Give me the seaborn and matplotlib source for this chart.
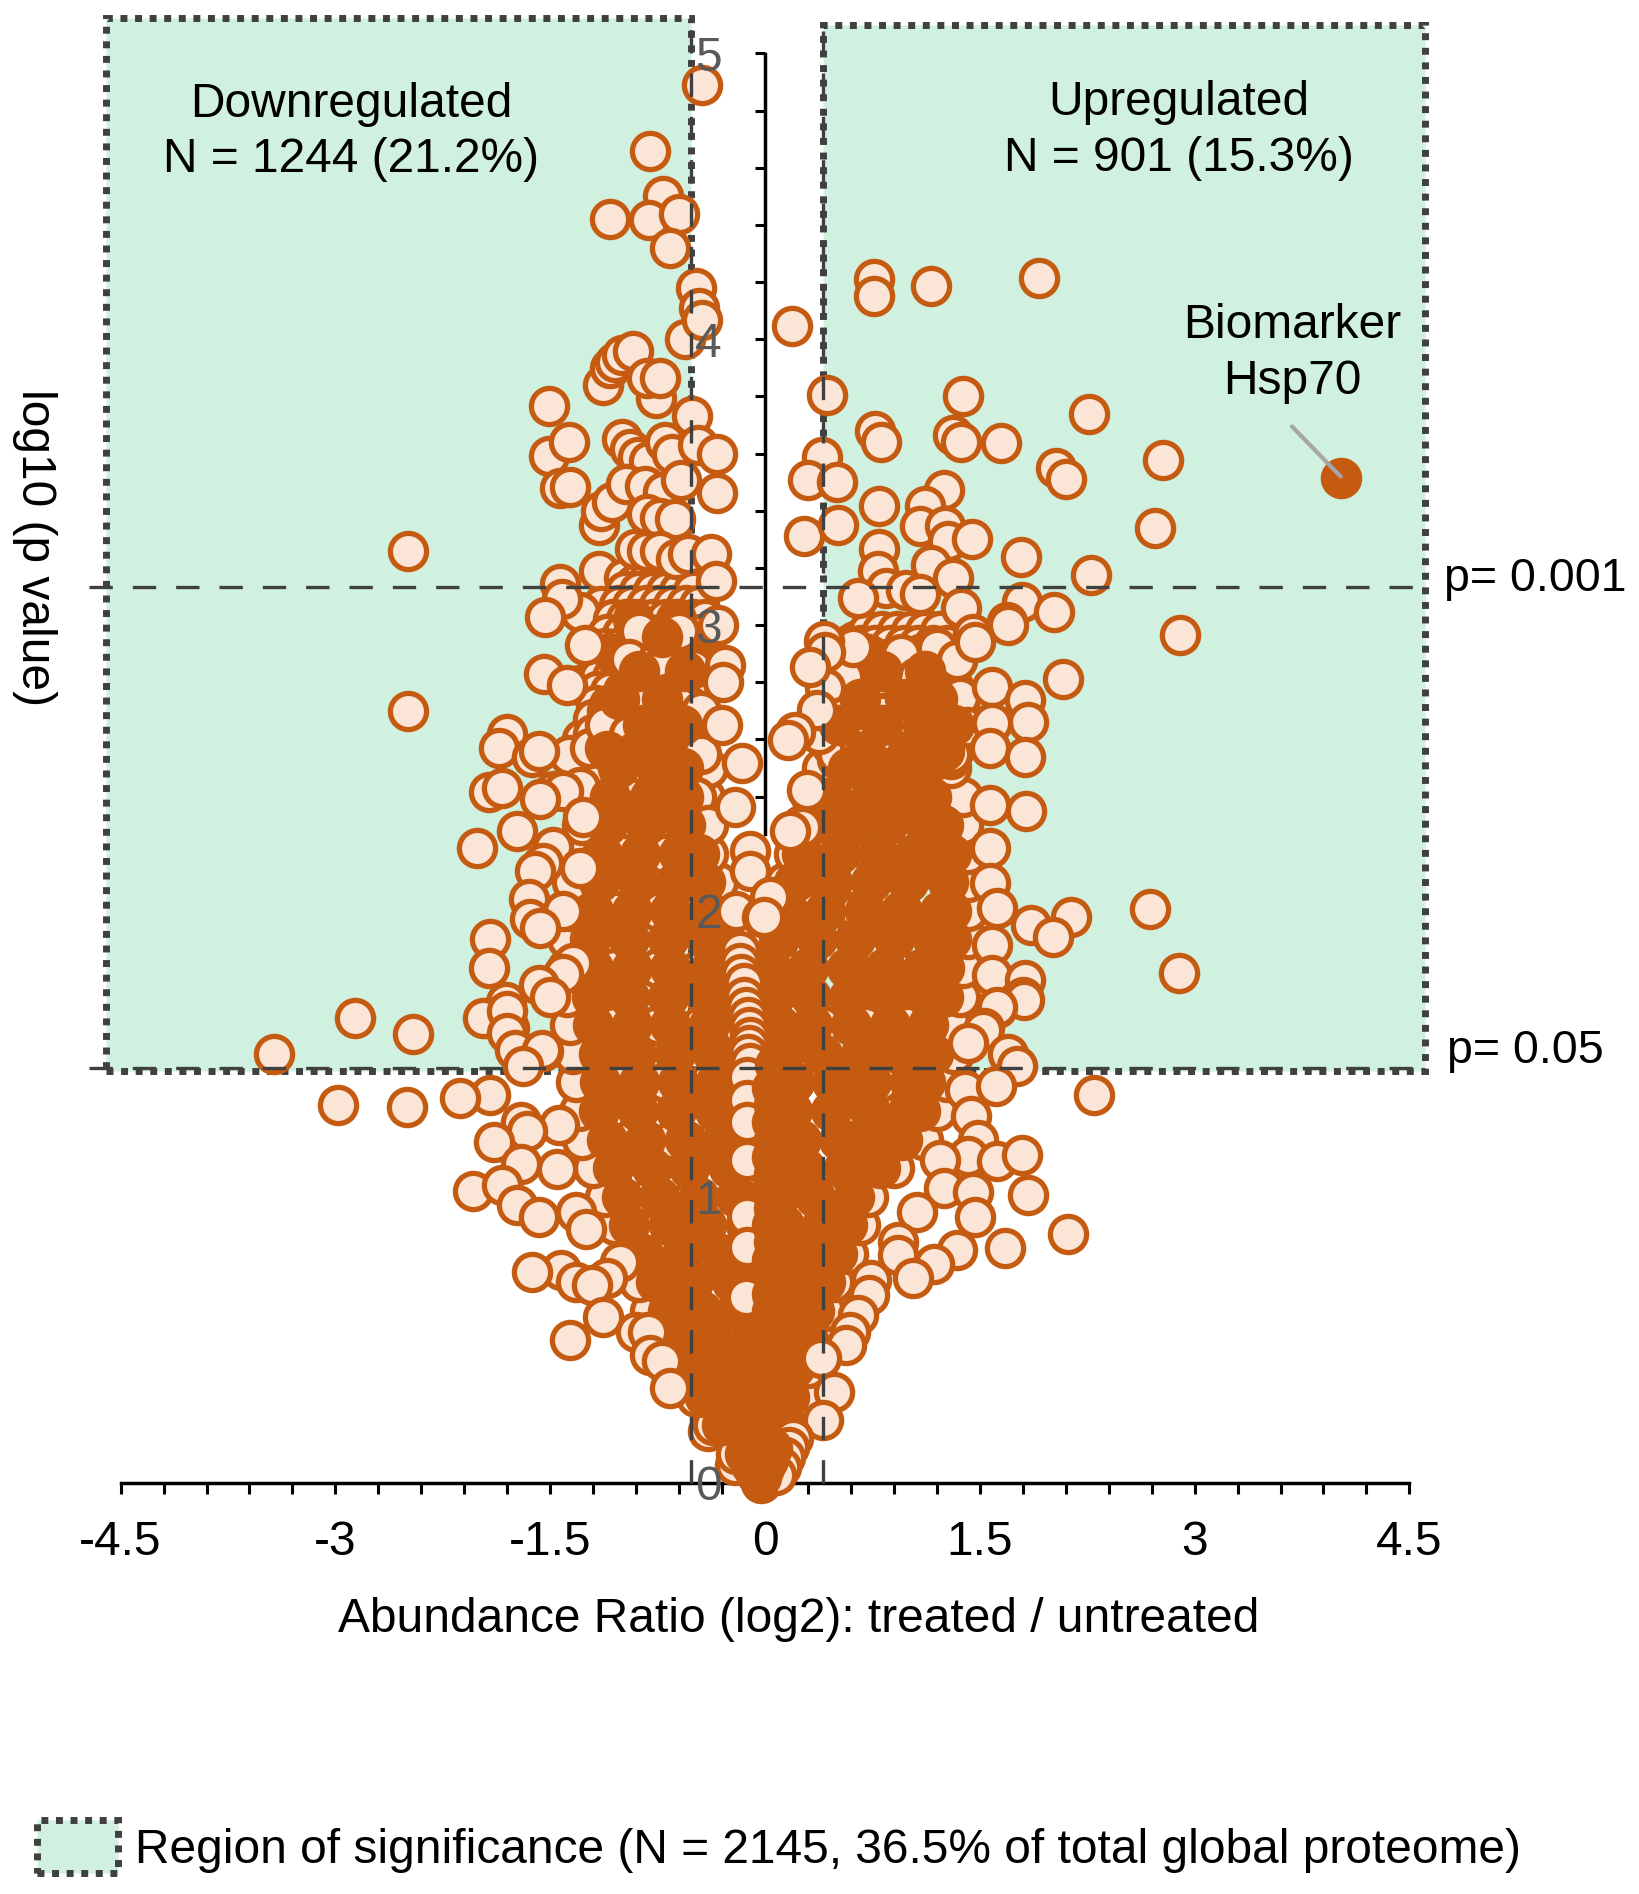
import numpy as np
import pandas as pd
import matplotlib
matplotlib.use("Agg")
import matplotlib.pyplot as plt
from matplotlib.patches import Rectangle, Patch
import seaborn as sns

# ---------- values (log2 ratio, -log10 p) ----------
left_top = [(-.44,4.89),(-.80,4.66),(-.71,4.50),(-.81,4.416),(-1.08,4.42),(-.60,4.44),(-.665,4.32),
 (-.48,4.18),(-.46,4.11),(-.56,4.0),(-.44,4.066),(-1.13,3.84),(-1.08,3.90),(-1.05,3.92),(-1.0,3.945),(-.92,3.96),
 (-.76,3.795),(-.825,3.866),(-.735,3.866),(-.51,3.73),(-1.51,3.765),(-1.51,3.59),(-1.37,3.64),
 (-1.43,3.48),(-1.36,3.483),(-1.16,3.35),(-1.145,3.40),(-1.07,3.43),
 (-1.0,3.65),(-.94,3.616),(-.89,3.587),(-.81,3.573),(-.70,3.64),(-.65,3.60),(-.97,3.495),(-.84,3.488),(-.71,3.466),
 (-.585,3.509),(-.47,3.63),(-.335,3.60),(-.335,3.463),(-.825,3.388),(-.73,3.373),(-.626,3.37),
 (-.905,3.266),(-.825,3.26),(-.73,3.26),(-.62,3.23),(-.535,3.248),(-.376,3.25),(-2.49,3.26)]
left_inner = [(-1.16,3.188),(-.985,3.166),(-.905,3.145),(-.81,3.16),(-.71,3.16),(-.616,3.159),
 (-1.145,3.066),(-.81,3.045),(-.49,3.045),(-1.29,3.045),(-.97,3.03),(-1.09,2.855),(-1.29,2.79),(-1.28,2.6),
 (-1.37,2.546),(-1.29,2.435),(-.48,2.4),(-.4,2.3)]
left_outer = [(-.344,3.156),(-1.43,3.145),(-1.42,3.09),(-1.536,3.03),(-.33,3.0),
 (-1.26,2.93),(-.28,2.86),(-1.54,2.83),(-1.385,2.79),(-.29,2.80),
 (-2.49,2.70),(-.30,2.65),(-1.80,2.62),(-1.855,2.57),(-1.63,2.54),(-1.58,2.558),
 (-.163,2.517),(-1.47,2.42),(-1.41,2.42),(-1.93,2.417),(-1.84,2.43),(-1.57,2.39),(-.21,2.365),
 (-1.27,2.33),(-1.73,2.28),(-2.01,2.22),(-1.48,2.225),(-.105,2.21),(-1.55,2.167),(-1.29,2.15),(-1.606,2.138),(-.105,2.14),
 (-1.65,2.04),(.07,2.05),(-1.41,2.0),(-.2,2.0),(-1.64,1.97),(-1.57,1.94),(-.02,1.98),(-1.92,1.90),(-1.925,1.80),
 (-1.34,1.817),(-1.41,1.78),(-1.58,1.74),(-1.50,1.70),(-1.81,1.68),(-1.94,1.625),(-1.79,1.59),(-2.455,1.57)]
left_low = [(-2.86,1.624),(-1.97,1.624),(-1.80,1.65),(-1.80,1.572),(-1.73,1.51),(-1.55,1.51),(-1.745,1.514),(-1.56,1.514),
 (-3.43,1.50),(-1.69,1.456),(-1.92,1.357),(-2.13,1.346),(-2.98,1.32),(-2.50,1.313),(-1.44,1.25),(-1.705,1.26),(-1.665,1.23),
 (-1.89,1.19),(-1.705,1.114),(-1.45,1.096),(-2.04,1.021),(-1.84,1.04),(-1.73,.971),(-1.32,.946),(-1.577,.928),
 (-1.25,.888),(-1.01,.772),(-1.425,.743),(-1.625,.737),(-1.10,.714),(-1.32,.702),(-1.21,.69),(-1.13,.58),(-.90,.528),(-.82,.528),
 (-1.36,.50),(-.80,.447),(-.716,.424),(-.663,.331)]
centre_col = [(-.175,1.86),(-.175,1.817),(-.165,1.78),(-.15,1.747),(-.15,1.70),(-.13,1.665),(-.116,1.63),(-.11,1.595),
 (-.105,1.56),(-.11,1.53),(-.12,1.50),(-.105,1.467),(-.125,1.42),(-.127,1.34),(-.127,1.26),
 (-.127,1.13),(-.127,.934),(-.127,.824),(-.13,.65)]
centre_front_y = [1.46,1.38,1.32,1.26,1.2,1.14,1.08,1.02,.96,.9,.84,.78,.72,.66,.6,.54,.48,.42,.36]
centre_front_x = [.07,.05,.06,.05,.06,.05,.06,.05,.06,.05,.06,.05,.06,.05,.05,.04,.04,.03,.03]
right_top = [(.188,4.045),(.76,4.21),(.76,4.15),(1.16,4.185),(1.915,4.216),(.435,3.805),(1.38,3.80),(2.26,3.74),
 (.767,3.68),(.807,3.64),(1.316,3.666),(1.367,3.64),(1.648,3.637),(2.03,3.55),(2.10,3.51),(2.776,3.578),
 (.396,3.588),(.298,3.509),(.50,3.50),(.27,3.312),(.513,3.349),(1.249,3.473),(1.12,3.416),(.795,3.416),
 (1.08,3.345),(1.257,3.345),(1.277,3.295),(1.445,3.30),(.795,3.266),(2.725,3.338),(1.785,3.238),(.787,3.188),
 (1.16,3.21),(2.275,3.176),(1.316,3.166),(.846,3.13),(.983,3.124),(1.08,3.11),(.65,3.095),(1.797,3.08),(1.37,3.06),(2.02,3.045)]
right_inner = [(1.10,2.99),(1.106,2.977),(.63,2.945),(.826,2.948),(1.34,2.878)]
right_outer = [(1.69,3.01),(1.70,3.0),(1.45,2.97),(2.90,2.965),(.415,2.945),(1.467,2.94),
 (.419,2.907),(.314,2.855),(2.08,2.81),(1.583,2.785),
 (1.816,2.738),(.36,2.703),(1.834,2.662),(1.583,2.657),
 (.21,2.627),(.163,2.598),(1.571,2.569),(1.816,2.54),(.291,2.423),(1.571,2.371),(1.823,2.351),
 (.256,2.295),(.175,2.28),(1.571,2.219),(1.571,2.097),(.035,2.05),(2.14,1.98),(1.62,2.01),(2.69,2.006),(-.01,1.98),
 (1.86,1.951),(2.009,1.91),(1.583,1.881),(2.89,1.784),(1.583,1.776),(1.816,1.759),(1.80,1.697)]
right_low = [(1.618,1.66),(1.81,1.688),(1.62,1.665),(1.53,1.59),(1.525,1.584),(1.42,1.537),(1.70,1.50),(1.757,1.456),
 (1.396,1.375),(1.61,1.386),(2.30,1.357),(1.436,1.282),(1.49,1.2),(1.42,1.143),(1.22,1.13),(1.623,1.125),(1.797,1.146),
 (1.25,1.03),(1.45,1.015),(1.837,1.006),(1.062,.946),(1.463,.928),(2.117,.868),(.93,.841),(1.677,.821),(1.343,.812),
 (.93,.795),(1.182,.766),(1.035,.714),(.742,.708),(.728,.656),(.648,.586),(.595,.528),(.568,.482),(.394,.435),
 (.482,.316),(.407,.22)]
tip_stack = [(.194,.157),(.165,.125),(.14,.09),(.11,.055),(.08,.025)]
tip_front_x = [.05,.02,-.01,-.03,-.06]
tip_front_y = [.12,.08,.05,.02,.03]

under_rows_y = [.06,.1,.18,.2,.3,.4,.5,.6,.7,.8,.9,1.0,1.1,1.2,1.3,1.4,1.5,1.6,1.7,1.8,1.9,2.0,2.1,2.2,2.3,2.4,2.5]
under_rows_x = [[-.21,-.10],[-.2,.12],[-.396],[-.36,.18],[-.48,.25],[-.6,-.3,0,.3],[-.72,.38],[-.8,-.5,-.2,.1,.42],[-.88,.48],
 [-.95,-.65,-.35,-.05,.25,.58],[-1.05,.66],[-1.12,-.8,-.5,-.2,.1,.4,.72],[-1.2,.9],
 [-1.28,-.95,-.65,-.35,-.05,.25,.55,.85,1.1],[-1.3,1.2],[-1.32,-1,-.7,-.4,-.1,.2,.5,.8,1.1,1.27],[-1.34,1.32],
 [-1.36,-1.05,-.75,-.45,-.18,.1,.4,.7,1.0,1.3],[-1.38,1.36],[-1.38,-1.05,-.75,-.45,-.25,0,.3,.6,.9,1.2,1.38],[-1.38,1.42],
 [-1.36,-1.05,-.75,-.45,-.28,.1,.35,.65,.95,1.25,1.42],[-1.35,-.33,.14,1.42],[-1.32,-1.0,-.7,-.4,.2,.45,.75,1.05,1.42],
 [-1.28,-.42,.25,1.38],[-1.25,-.95,-.65,-.42,.32,.6,.9,1.2,1.38],[-1.2,-.4,.4,1.3]]

dense_rows_y = [3.12,3.07,3.02,2.98,2.97,2.93,2.92,2.88,2.87,2.83,2.82,2.78,2.77,2.73,2.72,2.68,2.67,2.63,2.62,2.58,2.57,2.53]
dense_rows_x = [[-.98,-.88,-.78,-.69,-.6,-.5],[-1.02,-.93,-.83,-.74,-.64,-.55,-.46],[-1.06,-.97,-.87,-.78,-.69,-.6,-.5,-.42],
 [.72,.82,.92,1.02,1.12,1.22],[-1.1,-1.0,-.92,-.82,-.73,-.63,-.54,-.45],[.58,.67,.77,.87,.97,1.07,1.17,1.27],
 [-1.12,-1.03,-.94,-.85,-.76,-.67,-.58,-.48],[.5,.6,.7,.8,.9,1.0,1.1,1.2,1.3],[-1.15,-1.05,-.96,-.87,-.78,-.69,-.6,-.5],
 [.46,.56,.65,.75,.85,.95,1.05,1.15,1.25],[-1.16,-1.07,-.98,-.89,-.8,-.7,-.61,-.52],[.44,.54,.63,.72,.82,.92,1.02,1.12,1.22,1.32],
 [-1.17,-1.08,-.99,-.9,-.8,-.71,-.62,-.53],[.42,.52,.61,.7,.8,.9,1.0,1.1,1.2,1.3],[-1.18,-1.09,-1.0,-.91,-.82,-.73,-.64,-.54],
 [.42,.51,.6,.7,.79,.89,.99,1.09,1.19,1.29,1.38],[-1.2,-1.1,-1.01,-.92,-.83,-.74,-.65,-.56],[.44,.53,.62,.72,.81,.91,1.01,1.11,1.21,1.31],
 [-1.2,-1.11,-1.02,-.93,-.84,-.75,-.66,-.57],[.46,.55,.65,.75,.85,.95,1.05,1.15,1.25,1.35],[-1.22,-1.12,-1.03,-.94,-.85,-.76,-.67,-.58],
 [.5,.6,.7,.8,.9,1.0,1.1,1.2,1.3]]

solid_a_y = [3.02,2.9,2.8,2.7,2.6]
solid_a_x = [[-.92,-.62],[-1.06,-.78,-.5,.72,1.08],[-.95,-.65,.6,.92,1.24],[-1.1,-.8,-.52,.48,.76,1.06,1.34],[-.98,-.68,.62,.92,1.2]]
break_pts = [(-.88,2.98),(-.6,2.98),(-.95,2.88),(-.75,2.88),(-.5,2.85),(-1.0,2.75),(-.85,2.75),(-.6,2.72),(-.45,2.7),(-1.12,2.65),
 (-.95,2.62),(-.7,2.58),(-.45,2.55),(.95,2.9),(.8,2.82),(.55,2.82),(.42,2.78),(1.2,2.92),(1.25,2.68),(1.0,2.62),(.75,2.6),
 (.5,2.55),(1.3,2.55),(1.1,2.5),(.38,2.62),(1.06,2.82),(1.15,2.785),(1.362,2.75),(.687,2.715),(.535,2.68),(.826,2.69),
 (1.41,2.645),(.663,2.58),(.896,2.557),(.617,2.925),(1.34,2.878)]
solid_b_y = [2.96,2.84,2.74,2.65,2.56]
solid_b_x = [[-.72],[-.88,-.56,.82,1.12],[-.72,-1.02,.66,.98,1.2],[-.85,-.58,.52,.82,1.1,1.32],[-1.1,-.9,-.7,.7,1.0,1.25]]

core_rows_y = [0,.05,.1,.2,.3,.4,.5,.6,.7,.8,.9,1.0,1.1,1.2,1.3,1.4,1.5,1.6,1.7,1.8,1.9,2.0,2.1,2.2,2.3,2.4,2.5]
core_rows_x = [[-.03],[-.08,.04],[-.14,-.02,.07],[-.30,-.14,0,.13],[-.42,-.2,-.02,.17],[-.5,-.27,-.06,.2],
 [-.62,-.36,-.1,.14,.3],[-.68,-.44,-.18,.07,.34],[-.76,-.5,-.23,.03,.27,.42],[-.85,-.58,-.31,-.05,.22,.5],
 [-.95,-.67,-.41,-.13,.13,.4,.57],[-1.0,-.74,-.46,-.19,.08,.35,.62],[-1.06,-.79,-.53,-.25,.02,.28,.55,.8],
 [-1.1,-.84,-.56,-.3,-.03,.24,.52,.78,.96],[-1.16,-.89,-.62,-.35,-.08,.19,.46,.73,1.0,1.08],
 [-1.15,-.88,-.61,-.34,-.07,.2,.47,.74,1.01,1.12],[-1.16,-.9,-.63,-.36,-.1,.13,.4,.67,.94,1.17],
 [-1.2,-.93,-.66,-.39,.06,.33,.6,.87,1.14],[-1.21,-.95,-.68,-.41,-.28,.06,.32,.59,.86,1.13,1.24],
 [-1.2,-.93,-.66,-.38,.04,.3,.57,.84,1.1,1.25],[-1.22,-.95,-.68,-.41,-.34,.1,.36,.63,.9,1.17,1.3],
 [-1.2,-.93,-.66,-.4,.16,.42,.7,.96,1.22,1.3],[-1.16,-.89,-.62,-.42,.2,.47,.74,1.0,1.28],
 [-1.14,-.87,-.6,-.46,.26,.52,.79,1.06,1.3],[-1.1,-.83,-.56,.32,.59,.85,1.12,1.24],[-1.08,-.8,-.57,.47,.74,1.0,1.16],
 [-1.03,-.76,-.57,.58,.85,1.1]]
fill_rows_y = [.55,.75,.95,1.15,1.35,1.55,1.75,1.95,2.15,2.35]
fill_rows_x = [[-.4,.1],[-.62,-.1,.35],[-.55,0,.48],[-.92,-.42,.15,.65],[-1.0,-.48,.05,.6,1.04],[-1.03,-.5,.27,.8,1.05],
 [-1.08,-.55,.2,.72,1.0],[-1.08,-.55,.24,.76,1.04],[-1.0,-.5,.33,.87,1.14],[-.95,-.68,.54,.98]]

marker_point = (4.025, 3.513)
x_major = [-4.5,-3,-1.5,0,1.5,3,4.5]
x_major_labels = ["-4.5","-3","-1.5","0","1.5","3","4.5"]
y_major = [0,1,2,3,4,5]
p_levels = [3.133, 1.45]
fc_limits = [-0.517, 0.405]

ORANGE = "#C55A11"; PEACH = "#FBE5D6"; GREEN = "#D0F1DF"; DARK = "#404040"; GREY = "#595959"
W, H = 1639, 1894
X0, XU, Y0, YU = 765.0, 143.2, 1482.5, 285.8

sns.set_theme(style="white")
plt.rcParams["font.family"] = ["Liberation Sans", "DejaVu Sans"]
FS = 34.5

fig = plt.figure(figsize=(W/100, H/100), dpi=100)
pos = [(X0-4.5*XU)/W, 1-Y0/H, 9*XU/W, 5*YU/H]
ax = fig.add_axes(pos)
ax.set_xlim(-4.5, 4.5); ax.set_ylim(0, 5)
ax.patch.set_alpha(0)

def frame(pairs):
    return pd.DataFrame(pairs, columns=["ratio", "logp"])

def rows(ys, xs):
    return frame([(x, y) for y, r in zip(ys, xs) for x in r])

style = dict(s=680, linewidth=3.8, clip_on=False, legend=False)
z = [3.0]
def draw(df, solid=False):
    z[0] += .01
    sns.scatterplot(data=df, x="ratio", y="logp", ax=ax, color=ORANGE if solid else PEACH,
                    edgecolor=ORANGE, zorder=z[0], **style)

draw(rows(under_rows_y, under_rows_x))
draw(frame(left_inner)); draw(frame(right_inner))
draw(rows(dense_rows_y, dense_rows_x))
draw(rows(solid_a_y, solid_a_x), solid=True)
draw(frame(break_pts))
draw(rows(solid_b_y, solid_b_x), solid=True)
draw(rows(core_rows_y, core_rows_x), solid=True)
draw(rows(fill_rows_y, fill_rows_x), solid=True)
for grp in [left_top, right_top, left_outer, right_outer, left_low, right_low, centre_col]:
    draw(frame(grp))
draw(frame(list(zip(centre_front_x, centre_front_y))), solid=True)
draw(frame(tip_stack))
draw(frame(list(zip(tip_front_x, tip_front_y))), solid=True)
draw(frame([marker_point]), solid=True)

# significance regions
for (x0, x1, top) in [(-4.6, fc_limits[0], 5.124), (fc_limits[1], 4.61, 5.10)]:
    ax.add_patch(Rectangle((x0, 1.44), x1-x0, top-1.44, facecolor=GREEN, edgecolor=DARK, lw=5,
                           linestyle=(0, (1, 1.1)), clip_on=False, zorder=0.2))

# threshold lines
for p in p_levels:
    ax.plot([-4.72, 4.6], [p, p], color=DARK, lw=2.4, linestyle=(0, (7, 6)), clip_on=False, zorder=5)
for fc, t in zip(fc_limits, [5.1, 5.08]):
    ax.plot([fc, fc], [0, t], color=DARK, lw=2.4, linestyle=(0, (7, 6)), clip_on=False, zorder=5)

# axes
ax.set_axisbelow(True)
for s in ["top", "right"]:
    ax.spines[s].set_visible(False)
ax.spines["left"].set_position(("data", 0))
ax.spines["left"].set_bounds(2.27, 5)
for s in ["left", "bottom"]:
    ax.spines[s].set_color("black"); ax.spines[s].set_linewidth(2.5); ax.spines[s].set_zorder(0.9)
ax.set_xticks(x_major, x_major_labels)
ax.set_xticks(np.arange(-4.2, 4.3, .3), minor=True)
ax.set_yticks(np.arange(2.4, 5.01, .2), [""]*14)
ax.tick_params(axis="x", which="both", direction="out", length=8, width=2.2, color="black", bottom=True)
ax.tick_params(axis="x", which="major", labelsize=FS, pad=19, labelcolor="black")
ax.tick_params(axis="y", direction="out", length=7.5, width=2.2, color="black", left=True)
ax.set_xlabel("Abundance Ratio (log2): treated / untreated", fontsize=FS, color="black", va="center")
ax.xaxis.set_label_coords(.526, -.096)
ax.set_ylabel("log10 (p value)", fontsize=FS, color="black", rotation=270, va="center")
ax.yaxis.set_label_coords(-.067, .654)

# y tick labels float above the points
ax2 = fig.add_axes(pos, zorder=10)
ax2.patch.set_alpha(0)
for s in ax2.spines.values():
    s.set_visible(False)
ax2.set_xticks([])
ax2.set_xlim(-4.5, 4.5); ax2.set_ylim(0, 5)
ax2.spines["left"].set_position(("data", 0))
ax2.set_yticks(y_major, [str(v) for v in y_major])
ax2.tick_params(axis="y", length=0, pad=31, labelsize=FS, labelcolor=GREY)

# annotations
ax.text(-2.89, 4.725, "Downregulated\nN = 1244 (21.2%)", fontsize=FS, color="black", ha="center", va="center", linespacing=1.3, zorder=6)
ax.text(2.89, 4.73, "Upregulated\nN = 901 (15.3%)", fontsize=FS, color="black", ha="center", va="center", linespacing=1.3, zorder=6)
ax.text(3.68, 3.95, "Biomarker\nHsp70", fontsize=FS, color="black", ha="center", va="center", linespacing=1.3, zorder=6)
ax.plot([3.68, 4.02], [3.695, 3.52], color="#A6A6A6", lw=3, zorder=6, clip_on=False)
ax.text(4.74, 3.16, "p= 0.001", fontsize=33.5, color="black", ha="left", va="center", clip_on=False)
ax.text(4.76, 1.51, "p= 0.05", fontsize=33.5, color="black", ha="left", va="center", clip_on=False)

handle = Patch(facecolor=GREEN, edgecolor=DARK, lw=5, linestyle=(0, (1, 1.1)))
ax.legend(handles=[handle], labels=["Region of significance (N = 2145, 36.5% of total global proteome)"],
          loc="lower left", bbox_to_anchor=(37/W, 1-1873/H), bbox_transform=fig.transFigure, frameon=False,
          fontsize=FS, labelcolor="black", handlelength=1.68, handleheight=1.32, handletextpad=.36, borderpad=0, borderaxespad=0)

fig.savefig("out.png", dpi=100)
